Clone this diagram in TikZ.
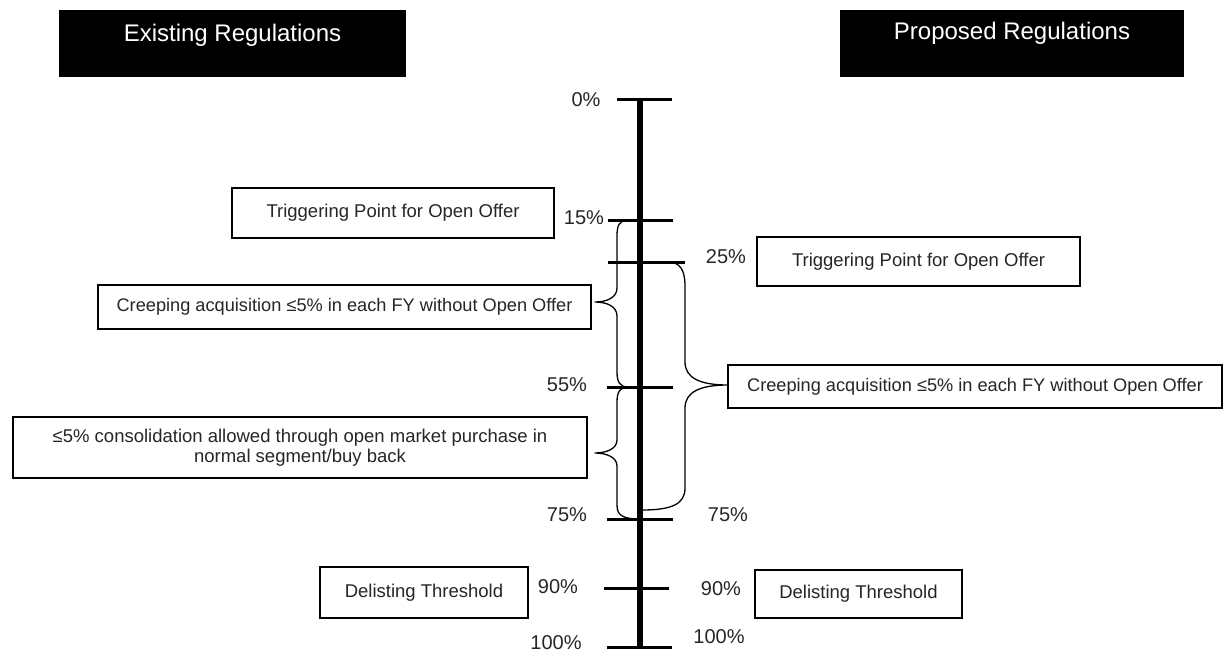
\documentclass[tikz,border=0pt]{standalone}
\usepackage{fontspec}
\setmainfont{Liberation Sans}
\begin{document}
\begin{tikzpicture}[x=1pt,y=-1pt,
  header/.style={fill=black, minimum height=67pt, inner sep=0pt},
  headtext/.style={text=white, inner sep=0pt, font=\fontsize{24}{28}\selectfont},
  box/.style={draw=black, line width=2.6pt, fill=white, inner sep=0pt, align=center,
    font=\fontsize{18.5}{20}\selectfont, text=black!85},
  pct/.style={inner sep=0pt, font=\fontsize{20}{24}\selectfont, text=black!85},
  tickmark/.style={line width=3pt},
  brace/.style={line width=1.3pt, line join=round}]
\useasboundingbox (0,0) rectangle (1225,655);

% column headers
\node[header, minimum width=347pt] (hL) at (232.5,43.5) {};
\node[headtext] (hLt) at (232.5,35) {Existing Regulations};
\node[header, minimum width=344pt] (hR) at (1012,43.5) {};
\node[headtext] (hRt) at (1012,33) {Proposed Regulations};

% shareholding axis
\coordinate (axtop) at (640,100);
\coordinate (axbot) at (640,647);
\draw[line width=6pt] (axtop) -- (axbot);

% ticks
\draw[tickmark] (617,100) -- (672,100);
\draw[tickmark] (608,220) -- (673,220);
\draw[tickmark] (608,262) -- (685,262);
\draw[tickmark] (607,387) -- (673,387);
\draw[tickmark] (607,519) -- (673,519);
\draw[tickmark] (604,588) -- (669,588);
\draw[tickmark] (607,647) -- (672,647);

% percentage labels
\node[pct] (p0)   at (586,100) {0\%};
\node[pct] (p15)  at (584,218) {15\%};
\node[pct] (p25)  at (726,257) {25\%};
\node[pct] (p55)  at (567,385) {55\%};
\node[pct] (p75l) at (567,515) {75\%};
\node[pct] (p75r) at (728,515) {75\%};
\node[pct] (p90l) at (558,587) {90\%};
\node[pct] (p90r) at (721,589) {90\%};
\node[pct] (p100l) at (556,643) {100\%};
\node[pct] (p100r) at (719,637) {100\%};

% braces
\draw[brace] (628,220) .. controls (619,220) and (617,226) .. (617,236) -- (617,288)
  .. controls (617,298) and (606,302) .. (595,302)
  .. controls (606,302) and (617,306) .. (617,316) -- (617,372)
  .. controls (617,382) and (620,387) .. (628,387);
\draw[brace] (628,387) .. controls (620,387) and (617,392) .. (617,402) -- (617,440)
  .. controls (617,449) and (606,453) .. (595,453)
  .. controls (606,453) and (617,457) .. (617,466) -- (617,505)
  .. controls (617,515) and (622,519) .. (640,519);
\draw[brace] (658,262) -- (668,262) .. controls (680,262) and (685,270) .. (685,286) -- (685,362)
  .. controls (685,378) and (700,385) .. (728,385)
  .. controls (700,385) and (685,392) .. (685,408) -- (685,488)
  .. controls (685,504) and (672,510) .. (642,510);

% annotation boxes
\node[box, minimum width=322pt, minimum height=50pt] (tpL) at (393,213) {Triggering Point for Open Offer};
\node[box, minimum width=323pt, minimum height=49pt] (tpR) at (918.5,261.5) {Triggering Point for Open Offer};
\node[box, minimum width=493pt, minimum height=44pt, font=\fontsize{18.2}{20}\selectfont] (crL) at (344.5,307) {Creeping acquisition ≤5\% in each FY without Open Offer};
\node[box, minimum width=494pt, minimum height=43pt, font=\fontsize{18.2}{20}\selectfont] (crR) at (975,386.5) {Creeping acquisition ≤5\% in each FY without Open Offer};
\node[box, minimum width=574pt, minimum height=61pt] (cons) at (300,447.5) {≤5\% consolidation allowed through open market purchase in\\normal segment/buy back};
\node[box, minimum width=208pt, minimum height=51pt] (dlL) at (424,592.5) {Delisting Threshold};
\node[box, minimum width=207pt, minimum height=48pt] (dlR) at (858.5,594) {Delisting Threshold};
\end{tikzpicture}
\end{document}
